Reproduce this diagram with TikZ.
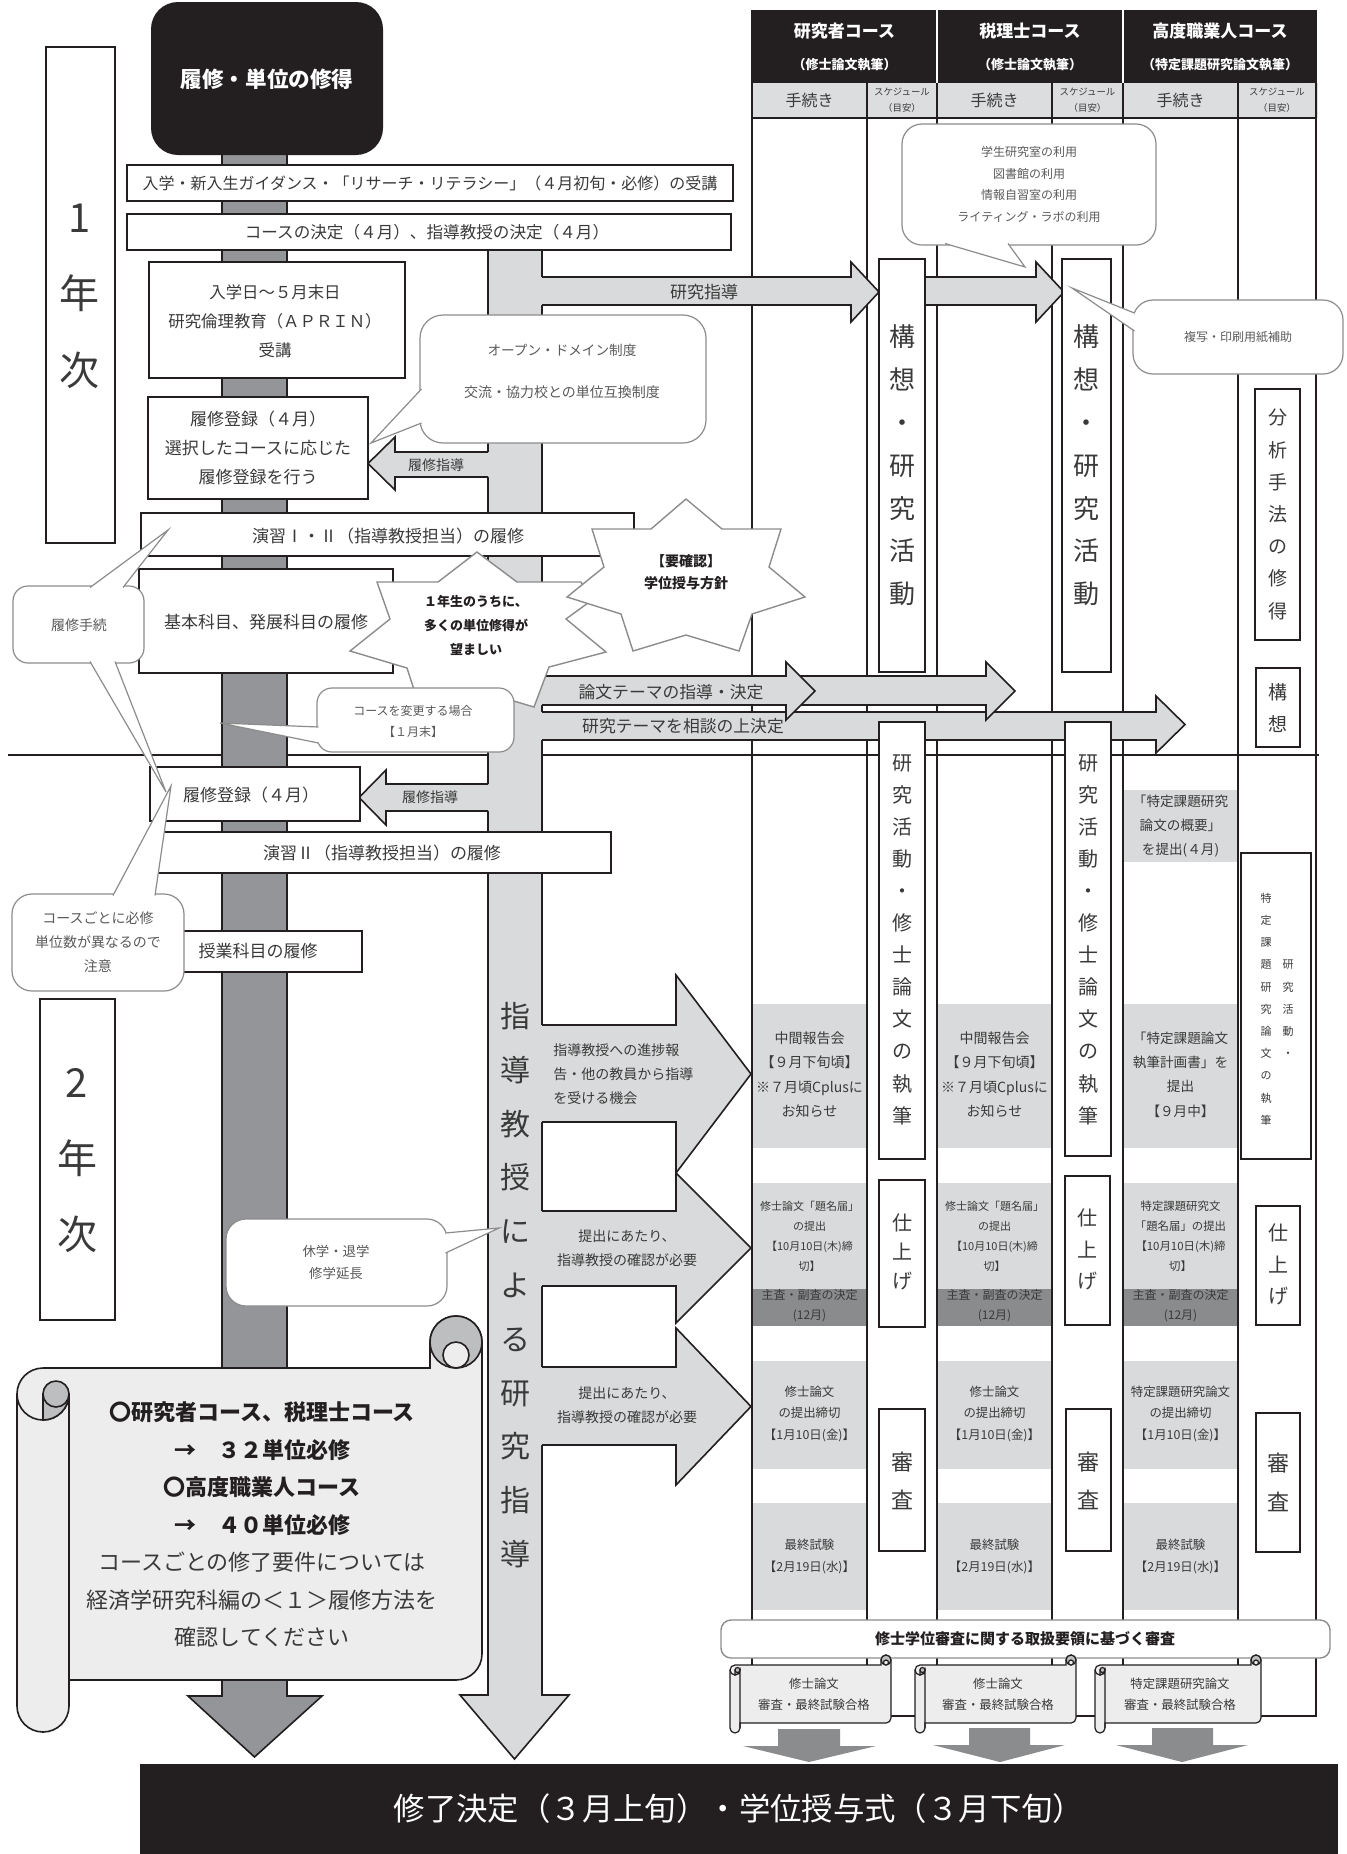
\documentclass[tikz,border=0pt]{standalone}
\usepackage{fontspec}
\setmainfont{Noto Sans CJK JP}
\newcommand\fs[2]{\fontsize{#1pt}{#2pt}\selectfont}
\definecolor{blk}{HTML}{231F20}
\definecolor{dbar}{HTML}{939598}
\definecolor{lbar}{HTML}{D9DADB}
\definecolor{hdr}{HTML}{DCDDDF}
\definecolor{schc}{HTML}{D9DADB}
\definecolor{dband}{HTML}{8A8B8D}
\definecolor{txtc}{HTML}{3A3A3A}
\definecolor{ctxt}{HTML}{5A5A5A}
\definecolor{cline}{HTML}{8C8C8C}
\definecolor{scrollf}{HTML}{EDEDED}
\definecolor{curlc}{HTML}{BCBEC0}
\definecolor{darr}{HTML}{8A8C8E}
\newcommand\arr[8]{%
  \fill[lbar] (#1,#3) -- (#5,#3) -- (#5,#6) -- (#8,{(#6+#7)/2}) -- (#5,#7) -- (#5,#4) -- (#1,#4) -- cycle;
  \draw[aline] (#2,#3) -- (#5,#3) -- (#5,#6) -- (#8,{(#6+#7)/2}) -- (#5,#7) -- (#5,#4) -- (#2,#4);}
\newcommand\pointer[6]{%
  \fill[white] (#1,#2) -- (#3,#4) -- (#5,#6) -- cycle;
  \draw[cside] (#1,#2) -- (#3,#4) -- (#5,#6);}
\newcommand\scrollshape[6][]{%
  \pgfmathsetmacro\scrXa{#2}\pgfmathsetmacro\scrYa{#3}%
  \pgfmathsetmacro\scrXb{#4}\pgfmathsetmacro\scrYb{#5}%
  \pgfmathsetmacro\scrC{#6}\pgfmathsetmacro\scrH{#6/2}\pgfmathsetmacro\scrQ{#6/4}%
  \filldraw[scrl,#1] (\scrXa,\scrYa+\scrC+\scrH) arc[start angle=180,end angle=270,radius=\scrH]
    -- (\scrXb-\scrC,\scrYa+\scrC) -- (\scrXb-\scrC,\scrYa+\scrH)
    arc[start angle=180,end angle=360,radius=\scrH]
    -- (\scrXb,\scrYb-\scrC-\scrH) arc[start angle=0,end angle=90,radius=\scrH]
    -- (\scrXa+\scrC,\scrYb-\scrC) -- (\scrXa+\scrC,\scrYb-\scrH)
    arc[start angle=0,end angle=180,radius=\scrH] -- cycle;
  \filldraw[scrl,#1,fill=curlc] (\scrXb-\scrH,\scrYa+\scrH) circle[radius=\scrH];
  \filldraw[scrl,#1] (\scrXb-\scrH,\scrYa+\scrH+\scrQ) circle[radius=\scrQ];
  \draw[scrl,#1,fill=none] (\scrXa,\scrYa+\scrC+\scrH) arc[start angle=180,end angle=0,radius=\scrH] -- (\scrXa+\scrC,\scrYb-\scrH);
  \filldraw[scrl,#1,fill=curlc] (\scrXa+\scrH,\scrYa+\scrC+\scrH) -- (\scrXa+\scrH,\scrYa+\scrC+\scrC) arc[start angle=90,end angle=0,radius=\scrH] -- cycle;
  \filldraw[scrl,#1,fill=curlc] (\scrXa+\scrH+\scrQ,\scrYa+\scrC+\scrH) circle[radius=\scrQ];
}
\begin{document}
\begin{tikzpicture}[x=0.5pt,y=-0.5pt,
  txt/.style={inner sep=0pt, align=center, text=txtc},
  ctx/.style={inner sep=0pt, align=center, text=ctxt},
  wbox/.style={draw=blk, line width=0.9pt, fill=white},
  cbox/.style={draw=cline, line width=0.6pt, fill=white},
  cside/.style={draw=cline, line width=0.6pt, line join=miter},
  aline/.style={draw=blk, line width=0.8pt, line join=miter},
  scrl/.style={fill=scrollf, draw=blk, line width=0.8pt},
  burst/.style={draw=cline, line width=0.7pt, fill=white, line join=miter},
  htxt/.style={inner sep=0pt, align=center, text=white},
]
\useasboundingbox (0,0) rectangle (1346,1854);
\fill[white] (0,0) rectangle (1346,1854);

% ================= table =================
\fill[blk] (752,10) rectangle (1317,83);
\fill[hdr] (752,83) rectangle (1318,118);
\draw[white, line width=1pt] (937,10) -- (937,83) (1123,10) -- (1123,83);
\foreach \xa/\xb in {752/867, 937/1052, 1123/1238}{
  \fill[schc] (\xa,1004) rectangle (\xb,1148);
  \fill[schc] (\xa,1183) rectangle (\xb,1289);
  \fill[dband] (\xa,1289) rectangle (\xb,1326);
  \fill[schc] (\xa,1361) rectangle (\xb,1469);
  \fill[schc] (\xa,1503) rectangle (\xb,1610);
}
\fill[schc] (1123,790) rectangle (1238,862);
\draw[blk, line width=1pt] (752,10) -- (752,1716) (937,83) -- (937,1716) (1123,83) -- (1123,1716) (1316,10) -- (1316,1716);
\draw[blk, line width=0.65pt] (867,83) -- (867,1716) (1052,83) -- (1052,1716) (1238,83) -- (1238,1716);
\draw[blk, line width=0.8pt] (752,118) -- (1316,118);
\draw[blk, line width=1pt] (751.5,1716) -- (1316.5,1716);

\node[htxt, font=\bfseries\fs{8.5}{10}] (h1a) at (844.5,31) {研究者コース};
\node[htxt, font=\bfseries\fs{6.5}{8}] (h1b) at (844.5,65) {（修士論文執筆）};
\node[htxt, font=\bfseries\fs{8.5}{10}] (h2a) at (1030,31) {税理士コース};
\node[htxt, font=\bfseries\fs{6.5}{8}] (h2b) at (1030,65) {（修士論文執筆）};
\node[htxt, font=\bfseries\fs{8.5}{10}] (h3a) at (1220,31) {高度職業人コース};
\node[htxt, font=\bfseries\fs{6.5}{8}] (h3b) at (1220,65) {（特定課題研究論文執筆）};
\node[txt, font=\fs{8}{9}] (s1) at (809.5,100) {手続き};
\node[txt, font=\fs{8}{9}] (s2) at (994.5,100) {手続き};
\node[txt, font=\fs{8}{9}] (s3) at (1180.5,100) {手続き};
\node[txt, font=\fs{4.7}{8}] (k1) at (902,100) {スケジュール\\（目安）};
\node[txt, font=\fs{4.7}{8}] (k2) at (1087.5,100) {スケジュール\\（目安）};
\node[txt, font=\fs{4.7}{8}] (k3) at (1277,100) {スケジュール\\（目安）};

% year divider
\draw[blk, line width=1.3pt] (8,755) -- (1319,755);

% ================= bars =================
\filldraw[fill=dbar, draw=blk, line width=0.8pt, line join=miter] (222,150) -- (222,1696) -- (188,1696) -- (254.5,1757) -- (322,1696) -- (287,1696) -- (287,150) -- cycle;
\filldraw[fill=lbar, draw=blk, line width=0.8pt, line join=miter] (488,250) -- (488,1695) -- (460,1695) -- (514.5,1759) -- (569,1695) -- (542,1695) -- (542,250) -- cycle;

% ================= arrows =================
\arr{540}{542}{712}{740}{1156}{696}{753}{1185}
\arr{790}{790}{676}{705}{986}{662}{720}{1015}
\arr{540}{542}{676}{705}{786}{662}{720}{815}
\arr{540}{542}{277}{305}{851}{262}{322}{879}
\arr{920}{920}{277}{305}{1036}{262}{322}{1064}
\arr{540}{542}{1367}{1445}{676}{1328}{1485}{751}
\arr{540}{542}{1211}{1286}{676}{1173}{1323}{751}
\arr{540}{542}{1025}{1122}{676}{975}{1173}{751}
\arr{490}{488}{452}{477}{395}{437}{490}{368}
\arr{490}{488}{784}{811}{386}{770}{825}{359}

% ================= left boxes =================
\fill[blk, rounded corners=13.5pt] (151,2) rectangle (383,155);
\node[htxt, font=\bfseries\fs{10.8}{12}] (title) at (267,79) {履修・単位の修得};

\draw[wbox] (46,47) rectangle (115,543);
\node[txt, font=\fs{20}{22}] (y1a) at (80,218) {1};
\node[txt, font=\fs{20}{22}] (y1b) at (80,293) {年};
\node[txt, font=\fs{20}{22}] (y1c) at (80,370) {次};
\draw[wbox] (40,999) rectangle (115,1320);
\node[txt, font=\fs{20}{22}] (y2a) at (77,1083) {2};
\node[txt, font=\fs{20}{22}] (y2b) at (77,1158) {年};
\node[txt, font=\fs{20}{22}] (y2c) at (77,1234) {次};

\draw[wbox] (127,165) rectangle (733,201);
\node[txt, font=\fs{8}{9}] (b1) at (430,183) {入学・新入生ガイダンス・「リサーチ・リテラシー」（４月初旬・必修）の受講};
\draw[wbox] (127,214) rectangle (731,250);
\node[txt, font=\fs{8.3}{9}] (b2) at (427,232) {コースの決定（４月）、指導教授の決定（４月）};
\draw[wbox] (149,262) rectangle (405,378);
\node[txt, font=\fs{8.2}{14.5}] (b3) at (275,321) {入学日～５月末日\\研究倫理教育（ＡＰＲＩＮ）\\受講};
\draw[wbox] (148,397) rectangle (368,499);
\node[txt, font=\fs{8.5}{14.5}] (b4) at (258,448) {履修登録（４月）\\選択したコースに応じた\\履修登録を行う};
\draw[wbox] (141,513) rectangle (634,556);
\node[txt, font=\fs{8.5}{10}] (b5) at (388,536) {演習Ⅰ・Ⅱ（指導教授担当）の履修};
\draw[wbox] (139,569) rectangle (393,673);
\node[txt, font=\fs{8.5}{10}] (b6) at (266,622) {基本科目、発展科目の履修};
\draw[wbox] (150,767) rectangle (360,821);
\node[txt, font=\fs{8.5}{10}] (b7) at (251,795) {履修登録（４月）};
\draw[wbox] (157,832) rectangle (611,873);
\node[txt, font=\fs{8.5}{10}] (b8) at (382,853) {演習Ⅱ（指導教授担当）の履修};
\draw[wbox] (146,931) rectangle (362,972);
\node[txt, font=\fs{8.5}{10}] (b9) at (258,951) {授業科目の履修};

% ================= column boxes =================
\draw[wbox] (879,259) rectangle (925,672);
\node[txt, font=\fs{13}{21.4}] (c1) at (902,465.5) {構\\想\\・\\研\\究\\活\\動};
\draw[wbox] (1062,259) rectangle (1111,672);
\node[txt, font=\fs{13}{21.4}] (c2) at (1086.5,465.5) {構\\想\\・\\研\\究\\活\\動};
\draw[wbox] (1255,389) rectangle (1300,640);
\node[txt, font=\fs{9.5}{16.1}] (c3) at (1277.5,514.5) {分\\析\\手\\法\\の\\修\\得};
\draw[wbox] (1256,668) rectangle (1300,747);
\node[txt, font=\fs{9.5}{16}] (c4) at (1278,708) {構\\想};

\draw[wbox] (879,722) rectangle (925,1159);
\node[txt, font=\fs{10}{16.05}] (d1) at (902,939.5) {研\\究\\活\\動\\・\\修\\士\\論\\文\\の\\執\\筆};
\draw[wbox] (1065,722) rectangle (1111,1156);
\node[txt, font=\fs{10}{16.05}] (d2) at (1088,939.5) {研\\究\\活\\動\\・\\修\\士\\論\\文\\の\\執\\筆};
\draw[wbox] (1241,853) rectangle (1311,1159);
\node[txt, font=\fs{5.5}{11.1}] (d3) at (1266,1009) {特\\定\\課\\題\\研\\究\\論\\文\\の\\執\\筆};
\node[txt, font=\fs{5.5}{11.1}] (d4) at (1288,1009) {研\\究\\活\\動\\・};

\draw[wbox] (879,1180) rectangle (925,1327);
\node[txt, font=\fs{10}{14.5}] (e1) at (902,1252) {仕\\上\\げ};
\draw[wbox] (1065,1176) rectangle (1110,1325);
\node[txt, font=\fs{10}{15.75}] (e2) at (1087.5,1249.5) {仕\\上\\げ};
\draw[wbox] (1256,1206) rectangle (1300,1325);
\node[txt, font=\fs{10}{15.75}] (e3) at (1278,1264.5) {仕\\上\\げ};

\draw[wbox] (879,1409) rectangle (925,1551);
\node[txt, font=\fs{11}{19}] (f1) at (902,1481) {審\\査};
\draw[wbox] (1066,1409) rectangle (1111,1551);
\node[txt, font=\fs{11}{19}] (f2) at (1088.5,1481) {審\\査};
\draw[wbox] (1256,1413) rectangle (1300,1552);
\node[txt, font=\fs{11}{19.5}] (f3) at (1278,1482.5) {審\\査};

% ================= labels on bars / arrows =================
\node[txt, font=\fs{15}{26.9}] (bartext) at (515,1285) {指\\導\\教\\授\\に\\よ\\る\\研\\究\\指\\導};
\node[txt, font=\fs{8.5}{10}] (la1) at (704,292) {研究指導};
\node[txt, font=\fs{8.4}{10}] (la2) at (683,726) {研究テーマを相談の上決定};
\node[txt, font=\fs{8.4}{10}] (la3) at (671,692) {論文テーマの指導・決定};
\node[txt, font=\fs{7}{8}] (la4) at (436,465) {履修指導};
\node[txt, font=\fs{7}{8}] (la5) at (430,797) {履修指導};
\node[txt, font=\fs{7}{12}, anchor=west, align=left] (la6) at (553,1074) {指導教授への進捗報\\告・他の教員から指導\\を受ける機会};
\node[txt, font=\fs{7}{12}] (la7) at (627,1248) {提出にあたり、\\指導教授の確認が必要};
\node[txt, font=\fs{7}{12}] (la8) at (627,1405) {提出にあたり、\\指導教授の確認が必要};

% ================= bursts =================
\draw[burst] (377,582) -- (438,582) -- (477,552) -- (517,582) -- (581,582) -- (592,600) -- (566,619) -- (606,652) -- (549,667) -- (534,707) -- (480,691) -- (418,702) -- (407,668) -- (350,651) -- (390,619) -- cycle;
\node[txt, text=blk, font=\bfseries\fs{6.5}{12}] (burst1) at (476,625) {１年生のうちに、\\多くの単位修得が\\望ましい};
\draw[burst] (686,499) -- (722,529) -- (781,529) -- (769,567) -- (805,597) -- (752,614) -- (739,651) -- (686,635) -- (633,651) -- (621,614) -- (567,597) -- (604,567) -- (592,529) -- (651,529) -- cycle;
\node[txt, text=blk, font=\bfseries\fs{7}{11}] (burst2) at (686,572) {【要確認】\\学位授与方針};

% ================= callouts =================
\draw[cbox, rounded corners=11.5pt] (420,315) rectangle (706,443);
\pointer{421.5}{389}{371}{443}{421.5}{423}
\node[ctx, font=\fs{6.8}{8}] (od1) at (562,350) {オープン・ドメイン制度};
\node[ctx, font=\fs{7}{8}] (od2) at (562,392) {交流・協力校との単位互換制度};

\draw[cbox, rounded corners=10pt] (902,124) rectangle (1156,245);
\pointer{945}{243.5}{1025}{267}{1008}{243.5}
\node[ctx, font=\fs{6}{10.85}] (fac) at (1029,184.5) {学生研究室の利用\\図書館の利用\\情報自習室の利用\\ライティング・ラボの利用};

\draw[cbox, rounded corners=10pt] (1133,300) rectangle (1343,374);
\pointer{1134.5}{313}{1072}{288}{1134.5}{331}
\node[ctx, font=\fs{6}{8}] (copy) at (1238,337) {複写・印刷用紙補助};

\draw[cbox, rounded corners=7.5pt] (13,586) rectangle (144,663);
\pointer{90}{587.5}{168}{530}{123}{587.5}
\pointer{90}{661.5}{166}{792}{115}{661.5}
\node[ctx, font=\fs{7}{8}] (proc) at (79,625) {履修手続};

\draw[cbox, rounded corners=10pt] (12,894) rectangle (184,991);
\pointer{113}{895.5}{171}{786}{155}{895.5}
\node[ctx, font=\fs{7}{12}] (note) at (98,942) {コースごとに必修\\単位数が異なるので\\注意};

\draw[cbox, rounded corners=7.5pt] (317,688) rectangle (514,752);
\pointer{318.5}{727}{220}{723}{318.5}{743}
\node[ctx, font=\fs{6}{10.5}] (chg) at (413,721.5) {コースを変更する場合\\【１月末】};

\draw[cbox, rounded corners=10pt] (226,1219) rectangle (447,1306);
\pointer{445.5}{1233}{499}{1228}{445.5}{1253}
\node[ctx, font=\fs{6.7}{11}] (leave) at (336,1262) {休学・退学\\修学延長};

% ================= schedule texts =================
\foreach \cx/\k in {809.5/a,994.5/b}{
  \node[txt, font=\fs{7}{12.15}] (m\k) at (\cx,1074.5) {中間報告会\\【９月下旬頃】\\※７月頃Cplusに\\お知らせ};
  \node[txt, font=\fs{5.5}{10}] (t\k) at (\cx,1236) {修士論文「題名届」\\の提出\\【10月10日(木)締\\切】};
  \node[txt, font=\fs{6}{10}] (j\k) at (\cx,1306) {主査・副査の決定\\(12月)};
  \node[txt, font=\fs{6.2}{10.75}] (p\k) at (\cx,1413.5) {修士論文\\の提出締切\\【1月10日(金)】};
  \node[txt, font=\fs{6.2}{11}] (x\k) at (\cx,1556) {最終試験\\【2月19日(水)】};
}
\node[txt, font=\fs{6.8}{12}] (ov) at (1180.5,826) {「特定課題研究\\論文の概要」\\を提出(４月)};
\node[txt, font=\fs{6.8}{12.15}] (mc) at (1180.5,1074.5) {「特定課題論文\\執筆計画書」を\\提出\\【９月中】};
\node[txt, font=\fs{5.7}{10}] (tc) at (1180.5,1236) {特定課題研究文\\「題名届」の提出\\【10月10日(木)締\\切】};
\node[txt, font=\fs{6}{10}] (jc) at (1180.5,1306) {主査・副査の決定\\(12月)};
\node[txt, font=\fs{6.2}{10.75}] (pc) at (1180.5,1413.5) {特定課題研究論文\\の提出締切\\【1月10日(金)】};
\node[txt, font=\fs{6.2}{11}] (xc) at (1180.5,1556) {最終試験\\【2月19日(水)】};

% ================= bottom part =================
\draw[cbox, rounded corners=5pt, line width=0.7pt] (721,1620) rectangle (1330,1658);
\node[txt, text=blk, font=\bfseries\fs{7.5}{9}] (rule) at (1025,1639) {修士学位審査に関する取扱要領に基づく審査};

\fill[darr] (778,1729) -- (840,1729) -- (840,1746) -- (876,1746) -- (809,1762) -- (743,1746) -- (778,1746) -- cycle;
\fill[darr] (969,1728) -- (1030,1728) -- (1030,1745) -- (1065,1745) -- (1000,1762) -- (933,1745) -- (969,1745) -- cycle;
\fill[darr] (1152,1728) -- (1213,1728) -- (1213,1745) -- (1248,1745) -- (1182,1762) -- (1116,1745) -- (1152,1745) -- cycle;

\scrollshape[line width=0.6pt]{730}{1655}{891}{1733}{10}
\node[txt, font=\fs{6.2}{10.5}] (sc1) at (814,1694.5) {修士論文\\審査・最終試験合格};
\scrollshape[line width=0.6pt]{915}{1655}{1076}{1733}{10}
\node[txt, font=\fs{6.2}{10.5}] (sc2) at (998,1694.5) {修士論文\\審査・最終試験合格};
\scrollshape[line width=0.6pt]{1095}{1655}{1261}{1733}{10}
\node[txt, font=\fs{6.2}{10.5}] (sc3) at (1180,1694.5) {特定課題研究論文\\審査・最終試験合格};

\scrollshape{17}{1316}{482}{1732}{52}
\node[txt, font=\fs{11}{18.75}] (req) at (262,1524.5) {\textcolor{blk}{\bfseries 〇研究者コース、税理士コース}\\\textcolor{blk}{\bfseries →　３２単位必修}\\\textcolor{blk}{\bfseries 〇高度職業人コース}\\\textcolor{blk}{\bfseries →　４０単位必修}\\コースごとの修了要件については\\経済学研究科編の＜１＞履修方法を\\確認してください};

\fill[blk] (140,1764) rectangle (1338,1854);
\node[htxt, font=\fs{15.7}{17}] (fin) at (739,1809) {修了決定（３月上旬）・学位授与式（３月下旬）};
\end{tikzpicture}
\end{document}
